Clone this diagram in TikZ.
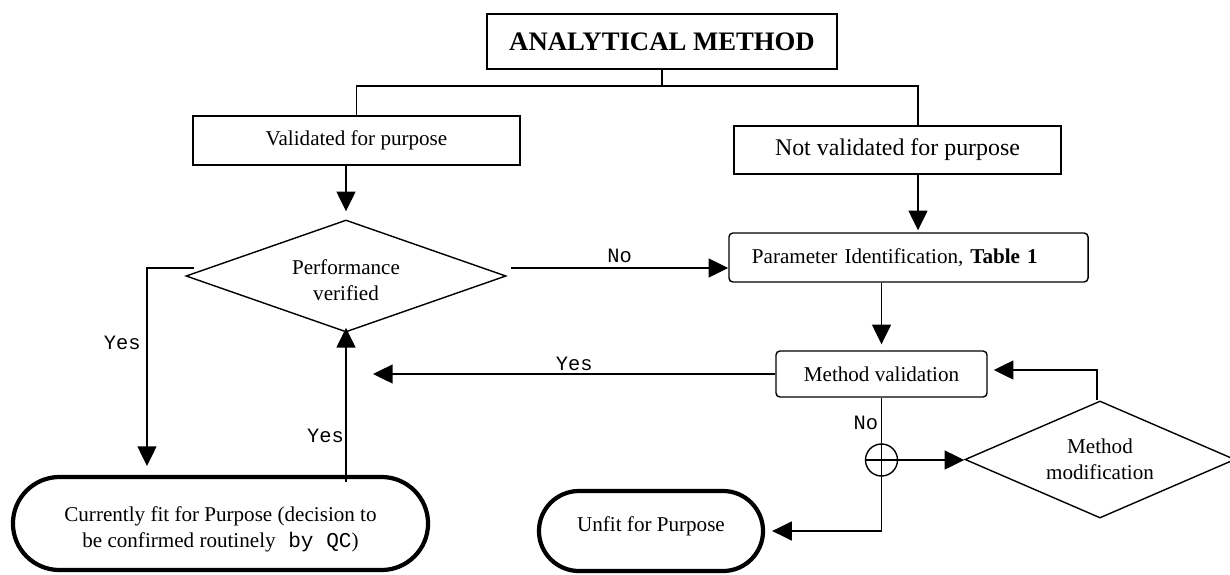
\documentclass[tikz,border=0pt]{standalone}
\usepackage{fontspec}
\setmainfont{Liberation Serif}
\setmonofont{Liberation Mono}
\usetikzlibrary{arrows.meta,shapes.geometric,shapes.misc}
\tikzset{
	base/.style={draw, line width=1pt, inner sep=0pt, align=center, font=\fontsize{15pt}{18.5pt}\selectfont},
	plainbox/.style={base, rectangle},
	roundbox/.style={base, rectangle, rounded corners=0.1cm},
	decision/.style={base, diamond},
	terminal/.style={base, rounded rectangle, line width=3pt},
	joint/.style={draw, line width=1pt, circle, inner sep=0pt, minimum size=0.8cm},
	line/.style={line width=1pt},
	arr/.style={line width=1pt, -{Triangle[length=14pt,width=13.5pt]}},
	answer/.style={font=\fontsize{14.5pt}{17pt}\ttfamily, inner sep=2pt},
}

\begin{document}
\begin{tikzpicture}[x=0.025cm, y=-0.025cm]
			\useasboundingbox (0,0) rectangle (1230,574);
			%%%%% BOXES %%%%%
			
			\node[plainbox, minimum width=8.75cm, minimum height=1.375cm, font=\fontsize{19pt}{22pt}\selectfont\bfseries] (title) at (662,41.5) {ANALYTICAL METHOD};
			
			\node[plainbox, minimum width=8.175cm, minimum height=1.225cm] (valid) at (356.5,140.5) {Validated for purpose};
			\node[plainbox, minimum width=8.175cm, minimum height=1.2cm, font=\fontsize{17pt}{20pt}\selectfont] (notvalid) at (897.5,150) {Not validated for purpose};
			
			\node[decision, aspect=2.857, minimum width=8cm, minimum height=2.8cm] (perf) at (346,276) {\rule{0pt}{16pt}Performance\\verified};
			\node[roundbox, minimum width=8.975cm, minimum height=1.225cm, text width=7.825cm, align=left, inner xsep=0.575cm] (param) at (908.5,257.5) {Parameter Identification, \textbf{Table 1}};
			
			\node[roundbox, minimum width=5.275cm, minimum height=1.15cm] (mval) at (881.5,374) {Method validation};
			\node[joint] (merge) at (881.5,460) {};
			\node[decision, aspect=2.31, minimum width=6.75cm, minimum height=2.925cm] (modif) at (1100,459.5) {Method\\modification};
			
			\node[terminal, minimum width=10.375cm, minimum height=2.325cm] (fit) at (220.5,523.5) {\rule{0pt}{19pt}Currently fit for Purpose (decision to\\be confirmed routinely\texttt{ by QC})};
			\node[terminal, minimum width=5.6cm, minimum height=2cm] (unfit) at (651,531) {Unfit for Purpose\rule[-10.5pt]{0pt}{10.5pt}};
			
			%%%%% LINKS %%%%%
			
			\coordinate (jr) at (918,86);
			\draw[line] (title.south) -- (title.south |- jr);
			\draw[line] (valid.north) |- (jr) -- (jr |- notvalid.north);
			
			\draw[arr, shorten >=0.2cm] (valid.south -| perf.north) -- (perf.north);
			\draw[arr, shorten >=0.05cm] (jr |- notvalid.south) -- (jr |- param.north);
			
			\coordinate (pno) at ([shift={(4,-8)}]perf.east);
			\draw[arr] (pno) -- (pno -| param.west) node[midway, above, answer, yshift=0.05cm] {No};
			
			\coordinate (pyes) at ([shift={(9,-8)}]perf.west);
			\coordinate (fitin) at (147,466);
			\draw[arr] (pyes) -| (fitin) node[pos=0.69, left, answer, inner xsep=4pt] {Yes};
			
			\draw[arr, shorten >=-0.12cm] ([yshift=-0.175cm]fit.north -| perf.south) -- (perf.south) node[pos=0.31, left, answer, inner xsep=1pt] {Yes};
			
			\coordinate (yesend) at (373,374);
			\draw[arr] (mval.west) -- (mval.west -| yesend) node[midway, above, answer] {Yes};
			
			\draw[arr, shorten >=0.15cm] (param.south -| mval.north) -- (mval.north);
			
			\draw[line] (mval.south) -- (merge.center) node[pos=0.4, left, answer] {No};
			\draw[arr, shorten >=0.175cm] (merge.center) |- (unfit.east);
			\draw[arr] (merge.west) -- (merge.west -| modif.west);
			
			\draw[arr, shorten >=0.15cm] ([xshift=-0.075cm]modif.north) |- ([yshift=0.1cm]mval.east);
			
\end{tikzpicture}
\end{document}
